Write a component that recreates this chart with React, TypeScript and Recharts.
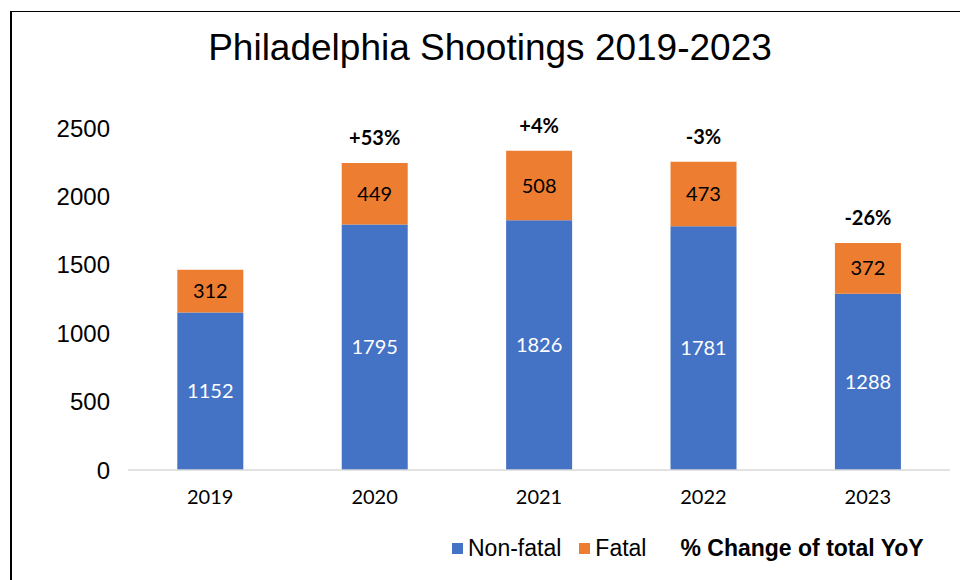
import { BarChart, Bar, XAxis, YAxis, LabelList, Legend } from 'recharts';

const years = ['2019', '2020', '2021', '2022', '2023'];
const nonFatal = [1152, 1795, 1826, 1781, 1288];
const fatal = [312, 449, 508, 473, 372];
const yoyChange = ['', '+53%', '+4%', '-3%', '-26%'];
const yTicks = [0, 500, 1000, 1500, 2000, 2500];

const BLUE = '#4472C4';
const ORANGE = '#ED7D31';
const SANS = '"Liberation Sans", Arial, Helvetica, sans-serif';
const CAL = 'Lato, "Open Sans", sans-serif';

const data = years.map((year, i) => ({
  year,
  nonFatal: nonFatal[i],
  fatal: fatal[i],
  pct: yoyChange[i],
}));

function ChartLegend() {
  const sq = (color: string) => (
    <span style={{ display: 'inline-block', width: 11, height: 11, background: color, marginRight: 5 }} />
  );
  return (
    <div style={{ display: 'flex', alignItems: 'center', fontFamily: SANS, fontSize: 23, color: '#000', whiteSpace: 'nowrap' }}>
      {sq(BLUE)}
      <span style={{ marginRight: 18 }}>Non-fatal</span>
      {sq(ORANGE)}
      <span style={{ marginRight: 34 }}>Fatal</span>
      <span style={{ fontWeight: 'bold' }}>% Change of total YoY</span>
    </div>
  );
}

export default function App() {
  return (
    <div style={{ position: 'fixed', left: 0, top: 0, width: 960, height: 580, background: '#fff', overflow: 'hidden' }}>
      {/* chart frame, right and bottom edges fall outside the picture */}
      <div
        style={{
          position: 'absolute', left: 10, top: 11, width: 1000, height: 700,
          borderLeft: '2px solid #000', borderTop: '1.5px solid #000',
        }}
      />
      <div
        style={{
          position: 'absolute', left: 10, top: 29, width: 960, textAlign: 'center',
          fontFamily: SANS, fontSize: 37, lineHeight: '37px', color: '#000',
        }}
      >
        Philadelphia Shootings 2019-2023
      </div>
      <div style={{ position: 'absolute', left: 0, top: 0 }}>
        <BarChart
          width={960}
          height={580}
          data={data}
          margin={{ top: 128, right: 10, bottom: 80, left: 0 }}
          barCategoryGap="30%"
        >
          <XAxis
            dataKey="year"
            height={30}
            axisLine={{ stroke: '#d9d9d9', strokeWidth: 1.5 }}
            tickLine={false}
            tickSize={0}
            tickMargin={20}
            tick={{ fill: '#000', fontSize: 20, fontFamily: CAL }}
          />
          <YAxis
            width={128}
            domain={[0, 2500]}
            ticks={yTicks}
            axisLine={false}
            tickLine={false}
            tickSize={0}
            tickMargin={18}
            tick={{ fill: '#000', fontSize: 24, fontFamily: SANS }}
          />
          <Legend
            content={<ChartLegend />}
            align="center"
            verticalAlign="middle"
            layout="horizontal"
            wrapperStyle={{ left: 452, top: 535, width: 510 }}
          />
          <Bar dataKey="nonFatal" name="Non-fatal" stackId="a" fill={BLUE} isAnimationActive={false}>
            <LabelList dataKey="nonFatal" position="center" fill="#fff" fontSize={20} fontFamily={CAL} />
          </Bar>
          <Bar dataKey="fatal" name="Fatal" stackId="a" fill={ORANGE} isAnimationActive={false}>
            <LabelList dataKey="fatal" position="center" fill="#000" fontSize={20} fontFamily={CAL} />
            <LabelList dataKey="pct" position="top" offset={18} fill="#000" fontSize={20} fontWeight="bold" fontFamily={CAL} />
          </Bar>
        </BarChart>
      </div>
    </div>
  );
}
